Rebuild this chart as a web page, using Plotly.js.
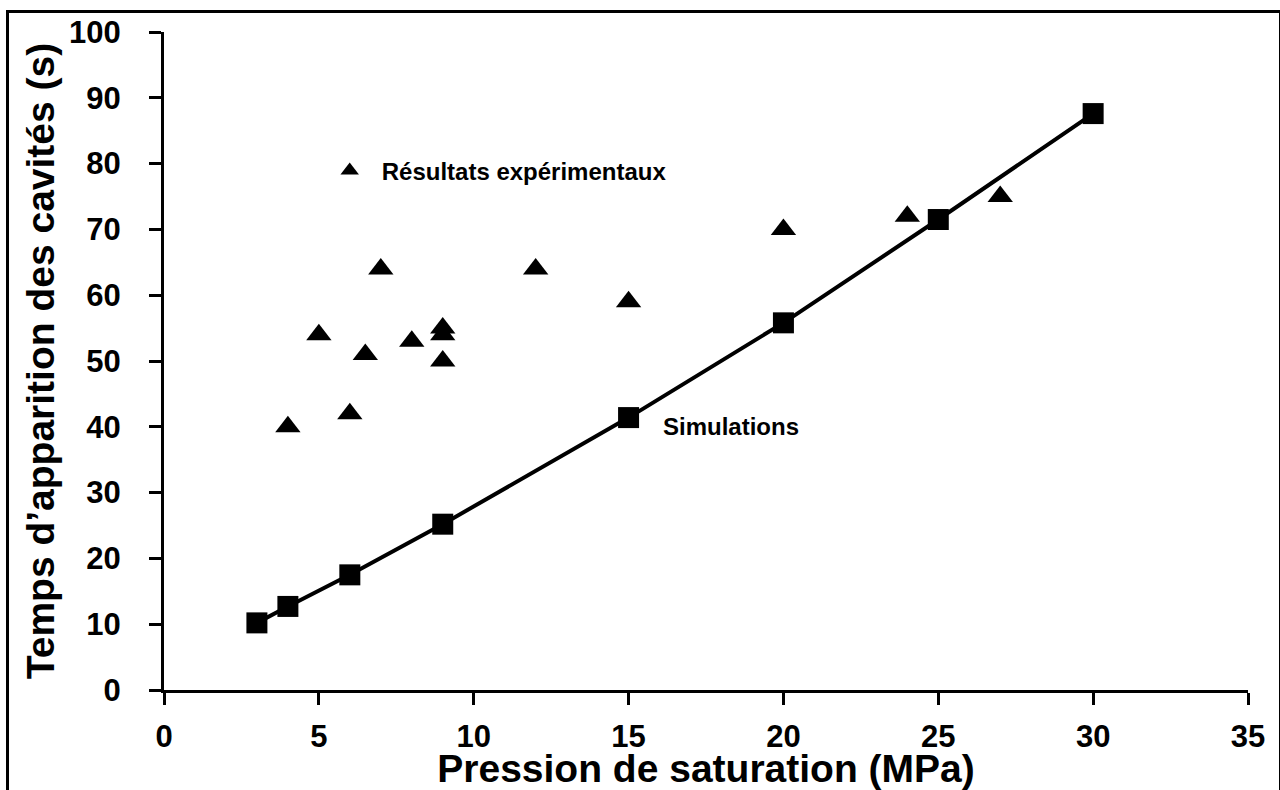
<!DOCTYPE html>
<html>
<head>
<meta charset="utf-8">
<script src="https://cdn.plot.ly/plotly-3.0.1.min.js"></script>
<style>
  html, body { margin: 0; padding: 0; background: #ffffff; overflow: hidden; }
  #wrap { position: relative; width: 1280px; height: 790px; }
  #chart { width: 1280px; height: 790px; }
  #frame {
    position: absolute; left: 6px; top: 10px; width: 1270px; height: 800px;
    border: 3px solid #000000; box-sizing: content-box; pointer-events: none; z-index: 10;
  }
</style>
</head>
<body>
<div id="wrap">
  <div id="chart"></div>
  <div id="frame"></div>
</div>
<script>
// Experimental results (triangles)
var expPressure = [4, 5, 6, 6.5, 7, 8, 9, 9, 9, 12, 15, 20, 24, 27];
var expTime     = [40, 54, 42, 51, 64, 53, 55, 54, 50, 64, 59, 70, 72, 75];

// Simulations (squares + line)
var simPressure = [3, 4, 6, 9, 15, 20, 25, 30];
var simTime     = [10.2, 12.7, 17.5, 25.2, 41.4, 55.8, 71.5, 87.6];

// Axis tick values
var xTicks = [0, 5, 10, 15, 20, 25, 30, 35];
var yTicks = [0, 10, 20, 30, 40, 50, 60, 70, 80, 90, 100];

var expName = 'Résultats expérimentaux';
var simName = 'Simulations';
var xTitle = 'Pression de saturation (MPa)';
var yTitle = 'Temps d\u2019apparition des cavités (s)';

var FONT = 'Liberation Sans, Arial, Helvetica, sans-serif';

var traces = [
  {
    type: 'scatter',
    mode: 'markers',
    name: expName,
    x: expPressure,
    y: expTime,
    marker: { symbol: 'triangle-up', size: 22, color: '#000000' },
    showlegend: true,
    cliponaxis: false
  },
  {
    type: 'scatter',
    mode: 'lines+markers',
    name: simName,
    x: simPressure,
    y: simTime,
    line: { color: '#000000', width: 4 },
    marker: { symbol: 'square', size: 21, color: '#000000' },
    showlegend: false,
    cliponaxis: false
  }
];

var ML = 164, MR = 32, MT = 32, MB = 100, W = 1280, H = 790;
var pw = W - ML - MR, ph = H - MT - MB;
function px2x(p) { return (p - ML) / pw; }
function py2y(p) { return (H - MB - p) / ph; }

var layout = {
  width: W,
  height: H,
  margin: { l: ML, r: MR, t: MT, b: MB, pad: 0 },
  paper_bgcolor: '#ffffff',
  plot_bgcolor: '#ffffff',
  font: { family: FONT, color: '#000000' },
  showlegend: true,
  legend: {
    x: px2x(317.7),
    y: py2y(171),
    xanchor: 'left',
    yanchor: 'middle',
    bgcolor: 'rgba(0,0,0,0)',
    borderwidth: 0,
    itemwidth: 54,
    font: { family: FONT, size: 24, weight: 'bold', color: '#000000' }
  },
  xaxis: {
    range: [0, 35],
    tickmode: 'array',
    tickvals: xTicks,
    ticktext: xTicks.map(String),
    showgrid: false,
    zeroline: false,
    showline: true,
    linecolor: '#000000',
    linewidth: 3,
    ticks: 'outside',
    ticklen: 12,
    tickwidth: 3,
    tickcolor: '#000000',
    ticklabelstandoff: 5,
    tickfont: { family: FONT, size: 31, weight: 'bold', color: '#000000' },
    title: {
      text: xTitle,
      standoff: 19,
      font: { family: FONT, size: 39, weight: 'bold', color: '#000000' }
    }
  },
  yaxis: {
    range: [0, 100],
    tickmode: 'array',
    tickvals: yTicks,
    ticktext: yTicks.map(String),
    showgrid: false,
    zeroline: false,
    showline: true,
    linecolor: '#000000',
    linewidth: 3,
    ticks: 'outside',
    ticklen: 12,
    tickwidth: 3,
    tickcolor: '#000000',
    ticklabelstandoff: 22,
    tickfont: { family: FONT, size: 31, weight: 'bold', color: '#000000' },
    title: {
      text: yTitle,
      standoff: 3,
      font: { family: FONT, size: 39, weight: 'bold', color: '#000000' }
    }
  },
  annotations: [
    {
      xref: 'x', yref: 'y',
      x: 16.05, y: 40.0,
      xanchor: 'left', yanchor: 'middle',
      text: simName,
      showarrow: false,
      font: { family: FONT, size: 24, weight: 'bold', color: '#000000' }
    }
  ]
};

Plotly.newPlot('chart', traces, layout, { displayModeBar: false, staticPlot: true });
</script>
</body>
</html>
